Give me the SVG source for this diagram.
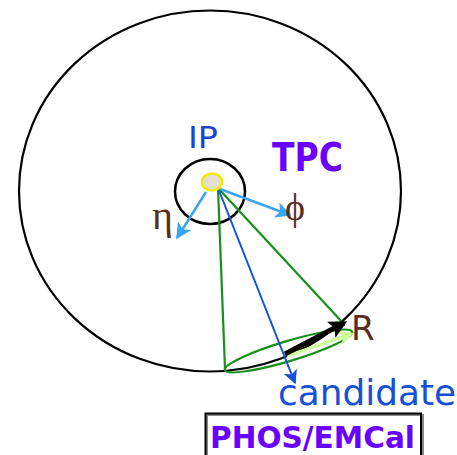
<svg xmlns="http://www.w3.org/2000/svg" width="457" height="455" viewBox="0 0 457 455">
<style>
.lbl{font-family:"DejaVu Sans","Verdana",sans-serif}
.grk{font-family:"Liberation Serif","DejaVu Serif",serif;fill:#5a2e1e}
.grn{stroke:#16901a;stroke-width:2.2;fill:none}
.lb{stroke:#3aa6f2;stroke-width:2.5;fill:none}
</style>
<defs>
<marker id="mlb" viewBox="0 0 10 10" refX="9" refY="5" markerWidth="16" markerHeight="16" orient="auto" markerUnits="userSpaceOnUse">
<path d="M0,0 L10,5 L0,10 L2.5,5 Z" fill="#3aa6f2"/>
</marker>
<marker id="mdb" viewBox="0 0 10 10" refX="9" refY="5" markerWidth="14" markerHeight="14" orient="auto" markerUnits="userSpaceOnUse">
<path d="M0,0 L10,5 L0,10 L2.5,5 Z" fill="#1550d6"/>
</marker>
<marker id="mbk" viewBox="0 0 10 10" refX="8" refY="5" markerWidth="18" markerHeight="18" orient="auto" markerUnits="userSpaceOnUse">
<path d="M0,0 L10,5 L0,10 L2,5 Z" fill="#000"/>
</marker>
<marker id="mlg" viewBox="0 0 10 10" refX="8" refY="5" markerWidth="15" markerHeight="15" orient="auto" markerUnits="userSpaceOnUse">
<path d="M0,0 L10,5 L0,10 L2,5 Z" fill="#ccff99"/>
</marker>
</defs>
<g id="tpc">
<ellipse cx="210" cy="191" rx="191" ry="180.5" fill="none" stroke="#000" stroke-width="2.2"/>
<text class="lbl" x="272" y="171" font-size="39" font-weight="bold" fill="#6a00ff" textLength="71" lengthAdjust="spacingAndGlyphs">TPC</text>
</g>
<g id="inner">
<ellipse cx="210" cy="191.5" rx="35" ry="32.5" fill="none" stroke="#000" stroke-width="2.5"/>
</g>
<g id="connectors">
<line class="grn" x1="218" y1="188" x2="225" y2="369"/>
<line class="grn" x1="218" y1="188" x2="343" y2="323"/>
<ellipse class="grn" cx="288.5" cy="351" rx="66.5" ry="10" transform="rotate(-16.7 288.5 351)"/>
<line x1="218" y1="188" x2="295" y2="383" stroke="#1550d6" stroke-width="2" marker-end="url(#mdb)"/>
<line class="lb" x1="206" y1="192" x2="177" y2="238" marker-end="url(#mlb)"/>
<line class="lb" x1="220" y1="189" x2="290" y2="215" marker-end="url(#mlb)"/>
<line x1="287" y1="356" x2="351" y2="334" stroke="#ccff99" stroke-width="3" marker-end="url(#mlg)"/>
<line x1="285" y1="354" x2="344" y2="323" stroke="#000" stroke-width="5" marker-end="url(#mbk)"/>
</g>
<g id="ip">
<ellipse cx="212" cy="182" rx="10" ry="8.5" fill="#e6dfd4" stroke="#f2ec00" stroke-width="2.5"/>
<text class="lbl" x="188" y="148" font-size="31" fill="#1a45d0" textLength="30" lengthAdjust="spacingAndGlyphs">IP</text>
</g>
<g id="eta"><text class="grk" x="152" y="229" font-size="40">η</text></g>
<g id="phi"><text class="grk" x="285" y="220" font-size="38">ϕ</text></g>
<g id="R"><text class="lbl" x="351" y="340" font-size="34" fill="#5a2e1e">R</text></g>
<g id="candidate"><text class="lbl" x="278" y="405" font-size="36" fill="#1550d6" textLength="178" lengthAdjust="spacingAndGlyphs">candidate</text></g>
<g id="phos">
<rect x="207" y="415" width="216" height="45" fill="none" stroke="#888" stroke-width="2"/>
<rect x="205.5" y="413.5" width="215.5" height="45" fill="none" stroke="#000" stroke-width="2"/>
<text class="lbl" x="210" y="448" font-size="30" font-weight="bold" fill="#6a00ff" textLength="205" lengthAdjust="spacingAndGlyphs">PHOS/EMCal</text>
</g>
</svg>
